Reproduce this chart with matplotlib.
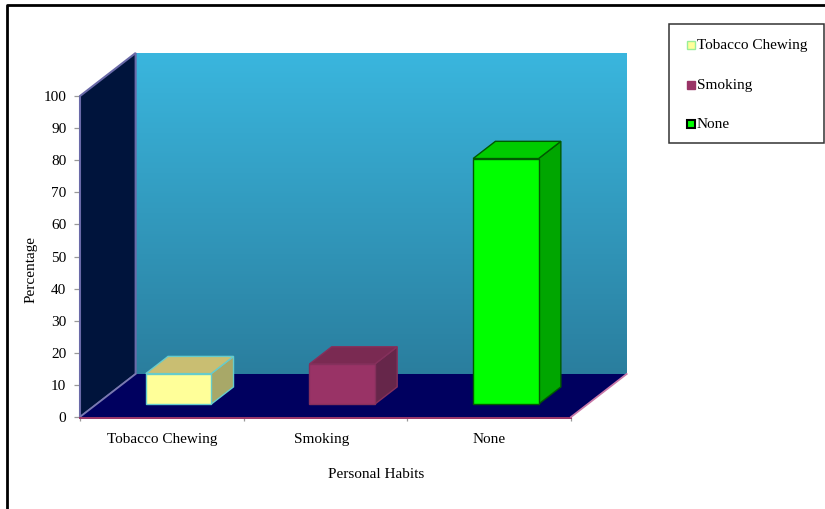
"""
Fake 3D column chart: Personal Habits vs Percentage.
Oblique projection done by hand, depth goes up and to the right.
"""
import numpy as np
import matplotlib.pyplot as plt
from matplotlib.patches import Polygon, Rectangle

plt.rcParams['font.family'] = ['Liberation Serif', 'DejaVu Serif']

categories = ['Tobacco Chewing', 'Smoking', 'None']
values = [9.5, 12.5, 76.5]
yticks = list(range(0, 101, 10))
front_colors = ['#FFFF99', '#993366', '#00FF00']
top_colors = ['#C9BE72', '#7A2A52', '#00CC00']
side_colors = ['#A8A868', '#66264A', '#00A600']
edge_colors = ['#66CCCC', '#85305C', '#005A00']

W, H = 825, 509
DEPTH_X = 0.34
DEPTH_Y = 13.4
BAR_W = 0.40
FS = 11


def proj(x, y, d):
    return (x + d * DEPTH_X, y + d * DEPTH_Y)


fig = plt.figure(figsize=(W / 100, H / 100), dpi=100)

# outer frame, only left and top are visible in the original
bg = fig.add_axes([0, 0, 1, 1])
bg.set_xlim(0, W)
bg.set_ylim(H, 0)
bg.axis('off')
bg.plot([7, 7, W], [H, 5, 5], color='black', lw=2.0)

# plot axes spans the front plane of the chart
ax = fig.add_axes([80 / W, 1 - 417 / H, 491 / W, 321 / H])
ax.set_xlim(0, 3)
ax.set_ylim(0, 100)
ax.patch.set_visible(False)
for s in ax.spines.values():
    s.set_visible(False)

# back wall with gradient
grad = np.linspace(0, 1, 256).reshape(-1, 1)
top_c = np.array([0x3A, 0xB6, 0xDE]) / 255
bot_c = np.array([0x2A, 0x7E, 0x9E]) / 255
img = top_c + (bot_c - top_c) * grad[..., None]
x0, y0 = proj(0, 0, 1)
x1, y1 = proj(3, 100, 1)
ax.imshow(img, extent=[x0, x1, y0, y1], aspect='auto', origin='upper',
          clip_on=False, zorder=1)
ax.set_xlim(0, 3)
ax.set_ylim(0, 100)

# left wall and floor
ax.add_patch(Polygon([proj(0, 0, 0), proj(0, 100, 0), proj(0, 100, 1), proj(0, 0, 1)],
                     facecolor='#00143C', edgecolor='#6A6AA8', lw=1.5,
                     clip_on=False, zorder=2))
ax.add_patch(Polygon([proj(0, 0, 0), proj(0, 0, 1), proj(3, 0, 1), proj(3, 0, 0)],
                     facecolor='#00005F', edgecolor='none', clip_on=False, zorder=2))
ax.plot(*zip(proj(0, 0, 0), proj(0, 0, 1)), color='#7A7AB0', lw=1.2, clip_on=False, zorder=3)
ax.plot(*zip(proj(0, -0.4, 0), proj(3, -0.4, 0)), color='#993366', lw=1.4,
        clip_on=False, zorder=3)
ax.plot(*zip(proj(3, 0, 0), proj(3, 0, 1)), color='#C878A8', lw=1.3,
        clip_on=False, zorder=3)

# bars
for i, v in enumerate(values):
    xl = i + 0.5 - BAR_W / 2
    xr = i + 0.5 + BAR_W / 2
    d0, d1 = 0.3, 0.7
    bx, by = proj(xl, 0, d0)
    kw = dict(edgecolor=edge_colors[i], lw=1.0, clip_on=False, zorder=4)
    ax.add_patch(Polygon([proj(xr, 0, d0), proj(xr, 0, d1), proj(xr, v, d1), proj(xr, v, d0)],
                         facecolor=side_colors[i], **kw))
    ax.add_patch(Polygon([proj(xl, v, d0), proj(xl, v, d1), proj(xr, v, d1), proj(xr, v, d0)],
                         facecolor=top_colors[i], **kw))
    ax.add_patch(Rectangle((bx, by), BAR_W, v, facecolor=front_colors[i], **kw))

# ticks and labels
ax.set_yticks(yticks)
ax.set_xticks([0, 1, 2, 3])
ax.set_xticklabels([])
ax.tick_params(axis='y', length=4.3, width=0.9, color='#999999', labelsize=FS, pad=5.5)
ax.tick_params(axis='x', length=3, width=0.9, color='#999999')
for c, pos in zip(categories, [0.5, 1.475, 2.5]):
    ax.text(pos, -7.1, c, ha='center', va='center', fontsize=FS)
ax.text(1.81, -17.8, 'Personal Habits', ha='center', va='center', fontsize=FS)
ax.text(-0.30, 45.8, 'Percentage', rotation=90, ha='center', va='center', fontsize=FS)

# legend drawn by hand so box position stays fixed
bg.add_patch(Rectangle((669, 24), 155, 119, facecolor='white', edgecolor='#333333', lw=1.1))
for c, e, ypix, name, lw in zip(front_colors, ['#99EE99', '#993366', 'black'],
                                [44.5, 84.5, 123.5], categories, [1.0, 1.0, 1.5]):
    bg.add_patch(Rectangle((686.5, ypix - 4), 8, 8, facecolor=c, edgecolor=e, lw=lw))
    bg.text(697, ypix + 1, name, ha='left', va='center', fontsize=FS)

fig.savefig('out.png', dpi=100)
